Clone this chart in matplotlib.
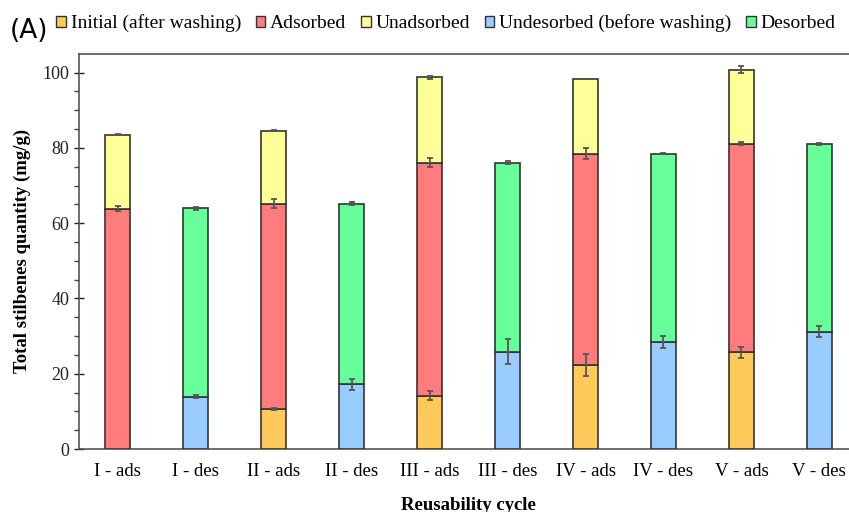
import numpy as np
import matplotlib.pyplot as plt
from matplotlib.patches import Patch

cycles = ['I', 'II', 'III', 'IV', 'V']

# adsorption step (mg/g), stacked
initial = [0.0, 10.6, 14.2, 22.3, 25.7]
adsorbed = [63.8, 54.6, 61.9, 56.2, 55.4]
unadsorbed = [19.7, 19.4, 22.7, 19.8, 19.7]

# desorption step (mg/g), stacked
undesorbed = [13.9, 17.2, 25.9, 28.5, 31.2]
desorbed = [50.0, 48.0, 50.2, 50.0, 49.9]

# standard deviations at each segment top
err_initial = [0.0, 0.3, 1.3, 2.9, 1.4]
err_adsorbed = [0.7, 1.2, 1.2, 1.4, 0.35]
err_unadsorbed = [0.2, 0.1, 0.4, 0.1, 1.0]
err_undesorbed = [0.35, 1.5, 3.3, 1.6, 1.4]
err_desorbed = [0.45, 0.4, 0.35, 0.1, 0.3]

c_init = '#FFC95C'
c_ads = '#FF7C7C'
c_unads = '#FFFF99'
c_undes = '#99CCFF'
c_des = '#66FF99'

plt.rcParams['font.family'] = 'Liberation Serif'

fig = plt.figure(figsize=(8.49, 5.12), dpi=100)
ax = fig.add_axes([0.093, 0.123, 0.918, 0.772])

x_ads = np.arange(5) * 2
x_des = x_ads + 1
w = 0.32
ek = dict(fmt='none', ecolor='#555555', elinewidth=1.3, capsize=2.5, capthick=1.3, zorder=4)
edge = dict(edgecolor='#333333', linewidth=1.2, zorder=3)

ini = np.array(initial)
ads = np.array(adsorbed)
una = np.array(unadsorbed)
ax.bar(x_ads, ini, w, color=c_init, **edge)
ax.bar(x_ads, ads, w, bottom=ini, color=c_ads, **edge)
ax.bar(x_ads, una, w, bottom=ini + ads, color=c_unads, **edge)
m = np.array(err_initial) > 0
ax.errorbar(x_ads[m], ini[m], yerr=np.array(err_initial)[m], **ek)
ax.errorbar(x_ads, ini + ads, yerr=err_adsorbed, **ek)
ax.errorbar(x_ads, ini + ads + una, yerr=err_unadsorbed, **ek)

und = np.array(undesorbed)
des = np.array(desorbed)
ax.bar(x_des, und, w, color=c_undes, **edge)
ax.bar(x_des, des, w, bottom=und, color=c_des, **edge)
ax.errorbar(x_des, und, yerr=err_undesorbed, **ek)
ax.errorbar(x_des, und + des, yerr=err_desorbed, **ek)

labels = []
for c in cycles:
    labels += [c + ' - ads', c + ' - des']
ax.set_xticks(np.arange(10))
ax.set_xticklabels(labels, fontsize=13.5)
ax.tick_params(axis='x', length=0, pad=10)
ax.set_xlim(-0.5, 9.5)

ax.set_ylim(0, 105)
ax.set_yticks(np.arange(0, 101, 20))
ax.set_yticks(np.arange(0, 105, 5), minor=True)
ax.tick_params(axis='y', which='major', direction='inout', length=7, width=1, labelsize=13, colors='#222222')
ax.tick_params(axis='y', which='minor', direction='out', length=3.5, width=1, colors='#444444')

for s in ['left', 'bottom', 'top']:
    ax.spines[s].set_color('#555555')
    ax.spines[s].set_linewidth(1.2)
ax.spines['right'].set_visible(False)

ax.set_ylabel('Total stilbenes quantity (mg/g)', fontsize=13.5, fontweight='bold', labelpad=8)
ax.set_xlabel('Reusability cycle', fontsize=13.5, fontweight='bold', labelpad=12)

handles = [Patch(facecolor=c, edgecolor='#333333', linewidth=1.0) for c in [c_init, c_ads, c_unads, c_undes, c_des]]
names = ['Initial (after washing)', 'Adsorbed', 'Unadsorbed', 'Undesorbed (before washing)', 'Desorbed']
fig.legend(handles, names, loc='center left', bbox_to_anchor=(0.066, 0.955), ncol=5, frameon=False,
           fontsize=14, handlelength=0.5, handleheight=0.5, handletextpad=0.25, columnspacing=0.75,
           borderaxespad=0, borderpad=0)

fig.text(0.012, 0.94, '(A)', fontsize=19, family='DejaVu Sans', va='center')

fig.savefig('out.png', dpi=100)
